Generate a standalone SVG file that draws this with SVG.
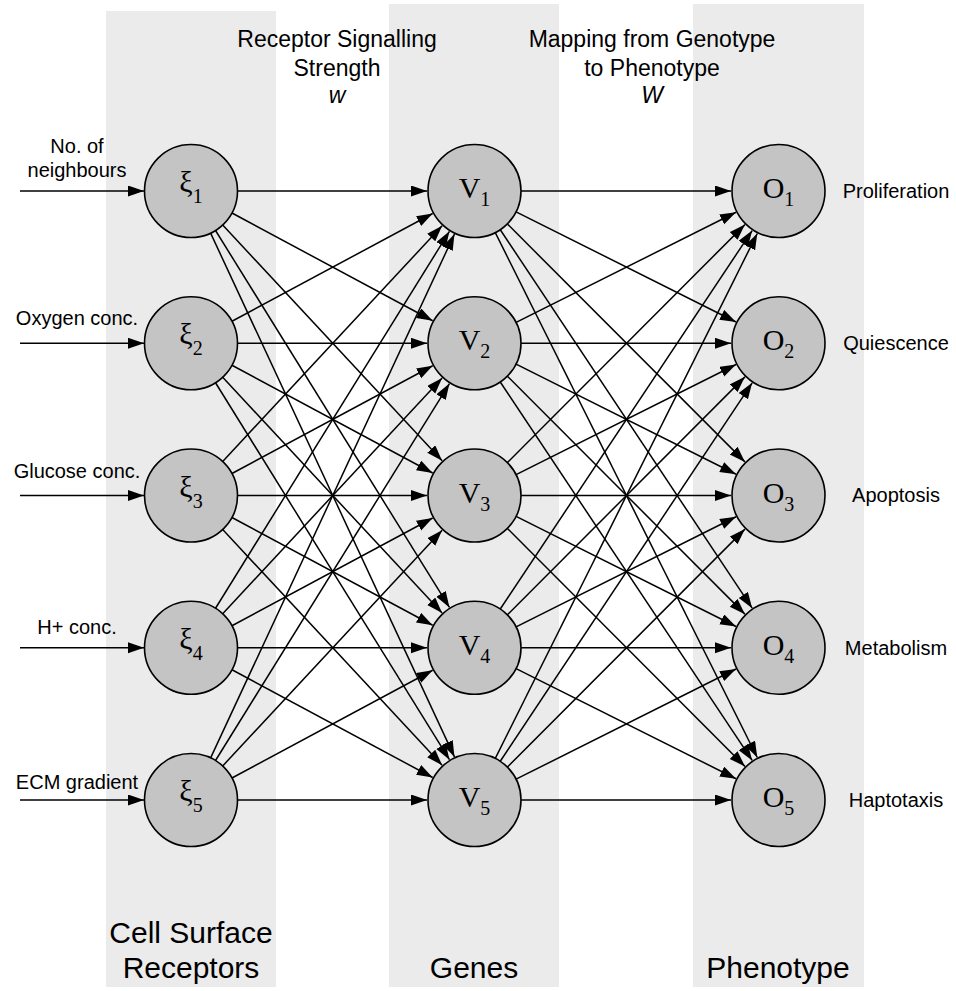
<svg xmlns="http://www.w3.org/2000/svg" xmlns:xlink="http://www.w3.org/1999/xlink" width="956" height="991" viewBox="0 0 956 991">
<style>
.band{fill:#ebebeb;stroke:none}
.node{fill:#c4c4c4;stroke:#000;stroke-width:1.6}
.edge{stroke:#000;stroke-width:1.5;fill:none;marker-end:url(#ah)}
.lbl{font-family:"Liberation Sans",Arial,sans-serif;font-size:20px;fill:#000;text-anchor:middle}
.top{font-family:"Liberation Sans",Arial,sans-serif;font-size:23px;fill:#000;text-anchor:middle}
.bot{font-family:"Liberation Sans",Arial,sans-serif;font-size:30px;fill:#000;text-anchor:middle}
.sym{font-family:"Liberation Serif","Times New Roman",serif;font-size:30px;fill:#000;text-anchor:middle}
.sub{font-size:20px}
</style>
<defs>
<marker id="ah" markerUnits="userSpaceOnUse" markerWidth="17" markerHeight="12" refX="16" refY="5.5" orient="auto">
<path d="M0,0 L16,5.5 L0,11 z" fill="#000"/>
</marker>
</defs>
<rect width="956" height="991" fill="#fff"/>
<g id="bands">
<rect class="band" x="106" y="11" width="170" height="976"/>
<rect class="band" x="389" y="4" width="170" height="983"/>
<rect class="band" x="693" y="4" width="171" height="983"/>
</g>
<g id="titles">
<text class="top" x="337" y="47">Receptor Signalling</text>
<text class="top" x="337" y="76">Strength</text>
<text class="top" x="337" y="103" font-style="italic">w</text>
<text class="top" x="652" y="47">Mapping from Genotype</text>
<text class="top" x="652" y="76">to Phenotype</text>
<text class="top" x="652" y="103" font-style="italic">W</text>
<text class="bot" x="191" y="943">Cell Surface</text>
<text class="bot" x="191" y="978">Receptors</text>
<text class="bot" x="474" y="978">Genes</text>
<text class="bot" x="778" y="978">Phenotype</text>
</g>
<g id="connectors">
<g id="inputs">
<line class="edge" x1="20" y1="191" x2="144" y2="191"/>
<line class="edge" x1="20" y1="343.25" x2="144" y2="343.25"/>
<line class="edge" x1="20" y1="495.5" x2="144" y2="495.5"/>
<line class="edge" x1="20" y1="647.75" x2="144" y2="647.75"/>
<line class="edge" x1="20" y1="800" x2="144" y2="800"/>
</g>
<g id="xi1-out" transform="translate(191,191)">
<line class="edge" x1="46.5" y1="0" x2="236" y2="0"/>
<line class="edge" x1="40.967" y1="22" x2="241.652" y2="129.776"/>
<line class="edge" x1="31.686" y1="34.033" x2="251.133" y2="269.735"/>
<line class="edge" x1="24.522" y1="39.509" x2="258.45" y2="416.392"/>
<line class="edge" x1="19.624" y1="42.156" x2="263.454" y2="565.937"/>
</g>
<g id="xi2-out" transform="translate(191,343.25)">
<line class="edge" x1="40.967" y1="-22" x2="241.652" y2="-129.776"/>
<line class="edge" x1="46.5" y1="0" x2="236" y2="0"/>
<line class="edge" x1="40.967" y1="22" x2="241.652" y2="129.776"/>
<line class="edge" x1="31.686" y1="34.033" x2="251.133" y2="269.735"/>
<line class="edge" x1="24.522" y1="39.509" x2="258.45" y2="416.392"/>
</g>
<g id="xi3-out" transform="translate(191,495.5)">
<line class="edge" x1="31.686" y1="-34.033" x2="251.133" y2="-269.735"/>
<line class="edge" x1="40.967" y1="-22" x2="241.652" y2="-129.776"/>
<line class="edge" x1="46.5" y1="0" x2="236" y2="0"/>
<line class="edge" x1="40.967" y1="22" x2="241.652" y2="129.776"/>
<line class="edge" x1="31.686" y1="34.033" x2="251.133" y2="269.735"/>
</g>
<g id="xi4-out" transform="translate(191,647.75)">
<line class="edge" x1="24.522" y1="-39.509" x2="258.45" y2="-416.392"/>
<line class="edge" x1="31.686" y1="-34.033" x2="251.133" y2="-269.735"/>
<line class="edge" x1="40.967" y1="-22" x2="241.652" y2="-129.776"/>
<line class="edge" x1="46.5" y1="0" x2="236" y2="0"/>
<line class="edge" x1="40.967" y1="22" x2="241.652" y2="129.776"/>
</g>
<g id="xi5-out" transform="translate(191,800)">
<line class="edge" x1="19.624" y1="-42.156" x2="263.454" y2="-565.937"/>
<line class="edge" x1="24.522" y1="-39.509" x2="258.45" y2="-416.392"/>
<line class="edge" x1="31.686" y1="-34.033" x2="251.133" y2="-269.735"/>
<line class="edge" x1="40.967" y1="-22" x2="241.652" y2="-129.776"/>
<line class="edge" x1="46.5" y1="0" x2="236" y2="0"/>
</g>
<g id="v1-out" transform="translate(474.5,191)">
<line class="edge" x1="46.5" y1="0" x2="256.5" y2="0"/>
<line class="edge" x1="41.577" y1="20.822" x2="261.529" y2="130.98"/>
<line class="edge" x1="32.854" y1="32.908" x2="270.44" y2="270.885"/>
<line class="edge" x1="25.764" y1="38.71" x2="277.682" y2="417.208"/>
<line class="edge" x1="20.768" y1="41.604" x2="282.785" y2="566.501"/>
</g>
<g id="v2-out" transform="translate(474.5,343.25)">
<line class="edge" x1="41.577" y1="-20.822" x2="261.529" y2="-130.98"/>
<line class="edge" x1="46.5" y1="0" x2="256.5" y2="0"/>
<line class="edge" x1="41.577" y1="20.822" x2="261.529" y2="130.98"/>
<line class="edge" x1="32.854" y1="32.908" x2="270.44" y2="270.885"/>
<line class="edge" x1="25.764" y1="38.71" x2="277.682" y2="417.208"/>
</g>
<g id="v3-out" transform="translate(474.5,495.5)">
<line class="edge" x1="32.854" y1="-32.908" x2="270.44" y2="-270.885"/>
<line class="edge" x1="41.577" y1="-20.822" x2="261.529" y2="-130.98"/>
<line class="edge" x1="46.5" y1="0" x2="256.5" y2="0"/>
<line class="edge" x1="41.577" y1="20.822" x2="261.529" y2="130.98"/>
<line class="edge" x1="32.854" y1="32.908" x2="270.44" y2="270.885"/>
</g>
<g id="v4-out" transform="translate(474.5,647.75)">
<line class="edge" x1="25.764" y1="-38.71" x2="277.682" y2="-417.208"/>
<line class="edge" x1="32.854" y1="-32.908" x2="270.44" y2="-270.885"/>
<line class="edge" x1="41.577" y1="-20.822" x2="261.529" y2="-130.98"/>
<line class="edge" x1="46.5" y1="0" x2="256.5" y2="0"/>
<line class="edge" x1="41.577" y1="20.822" x2="261.529" y2="130.98"/>
</g>
<g id="v5-out" transform="translate(474.5,800)">
<line class="edge" x1="20.768" y1="-41.604" x2="282.785" y2="-566.501"/>
<line class="edge" x1="25.764" y1="-38.71" x2="277.682" y2="-417.208"/>
<line class="edge" x1="32.854" y1="-32.908" x2="270.44" y2="-270.885"/>
<line class="edge" x1="41.577" y1="-20.822" x2="261.529" y2="-130.98"/>
<line class="edge" x1="46.5" y1="0" x2="256.5" y2="0"/>
</g>
</g>
<g id="input-labels">
<text class="lbl" x="77" y="153">No. of</text>
<text class="lbl" x="77" y="177">neighbours</text>
<text class="lbl" x="77" y="325">Oxygen conc.</text>
<text class="lbl" x="77" y="478">Glucose conc.</text>
<text class="lbl" x="77" y="634">H+ conc.</text>
<text class="lbl" x="77" y="789">ECM gradient</text>
</g>
<g id="output-labels">
<text class="lbl" x="896" y="198">Proliferation</text>
<text class="lbl" x="896" y="350">Quiescence</text>
<text class="lbl" x="896" y="502">Apoptosis</text>
<text class="lbl" x="896" y="655">Metabolism</text>
<text class="lbl" x="896" y="807">Haptotaxis</text>
</g>
<g id="xi1"><circle class="node" cx="191" cy="191" r="46.5"/><text class="sym" x="191" y="192">ξ<tspan class="sub" dy="11">1</tspan></text></g>
<g id="xi2"><circle class="node" cx="191" cy="343.25" r="46.5"/><text class="sym" x="191" y="344">ξ<tspan class="sub" dy="11">2</tspan></text></g>
<g id="xi3"><circle class="node" cx="191" cy="495.5" r="46.5"/><text class="sym" x="191" y="496.5">ξ<tspan class="sub" dy="11">3</tspan></text></g>
<g id="xi4"><circle class="node" cx="191" cy="647.75" r="46.5"/><text class="sym" x="191" y="648.5">ξ<tspan class="sub" dy="11">4</tspan></text></g>
<g id="xi5"><circle class="node" cx="191" cy="800" r="46.5"/><text class="sym" x="191" y="801">ξ<tspan class="sub" dy="11">5</tspan></text></g>
<g id="v1"><circle class="node" cx="474.5" cy="191" r="46.5"/><text class="sym" x="474.5" y="198">V<tspan class="sub" dy="8">1</tspan></text></g>
<g id="v2"><circle class="node" cx="474.5" cy="343.25" r="46.5"/><text class="sym" x="474.5" y="350">V<tspan class="sub" dy="8">2</tspan></text></g>
<g id="v3"><circle class="node" cx="474.5" cy="495.5" r="46.5"/><text class="sym" x="474.5" y="502.5">V<tspan class="sub" dy="8">3</tspan></text></g>
<g id="v4"><circle class="node" cx="474.5" cy="647.75" r="46.5"/><text class="sym" x="474.5" y="655">V<tspan class="sub" dy="8">4</tspan></text></g>
<g id="v5"><circle class="node" cx="474.5" cy="800" r="46.5"/><text class="sym" x="474.5" y="807">V<tspan class="sub" dy="8">5</tspan></text></g>
<g id="o1"><circle class="node" cx="778.5" cy="191" r="46.5"/><text class="sym" x="778.5" y="198">O<tspan class="sub" dy="8">1</tspan></text></g>
<g id="o2"><circle class="node" cx="778.5" cy="343.25" r="46.5"/><text class="sym" x="778.5" y="350">O<tspan class="sub" dy="8">2</tspan></text></g>
<g id="o3"><circle class="node" cx="778.5" cy="495.5" r="46.5"/><text class="sym" x="778.5" y="502.5">O<tspan class="sub" dy="8">3</tspan></text></g>
<g id="o4"><circle class="node" cx="778.5" cy="647.75" r="46.5"/><text class="sym" x="778.5" y="655">O<tspan class="sub" dy="8">4</tspan></text></g>
<g id="o5"><circle class="node" cx="778.5" cy="800" r="46.5"/><text class="sym" x="778.5" y="807">O<tspan class="sub" dy="8">5</tspan></text></g>
</svg>
